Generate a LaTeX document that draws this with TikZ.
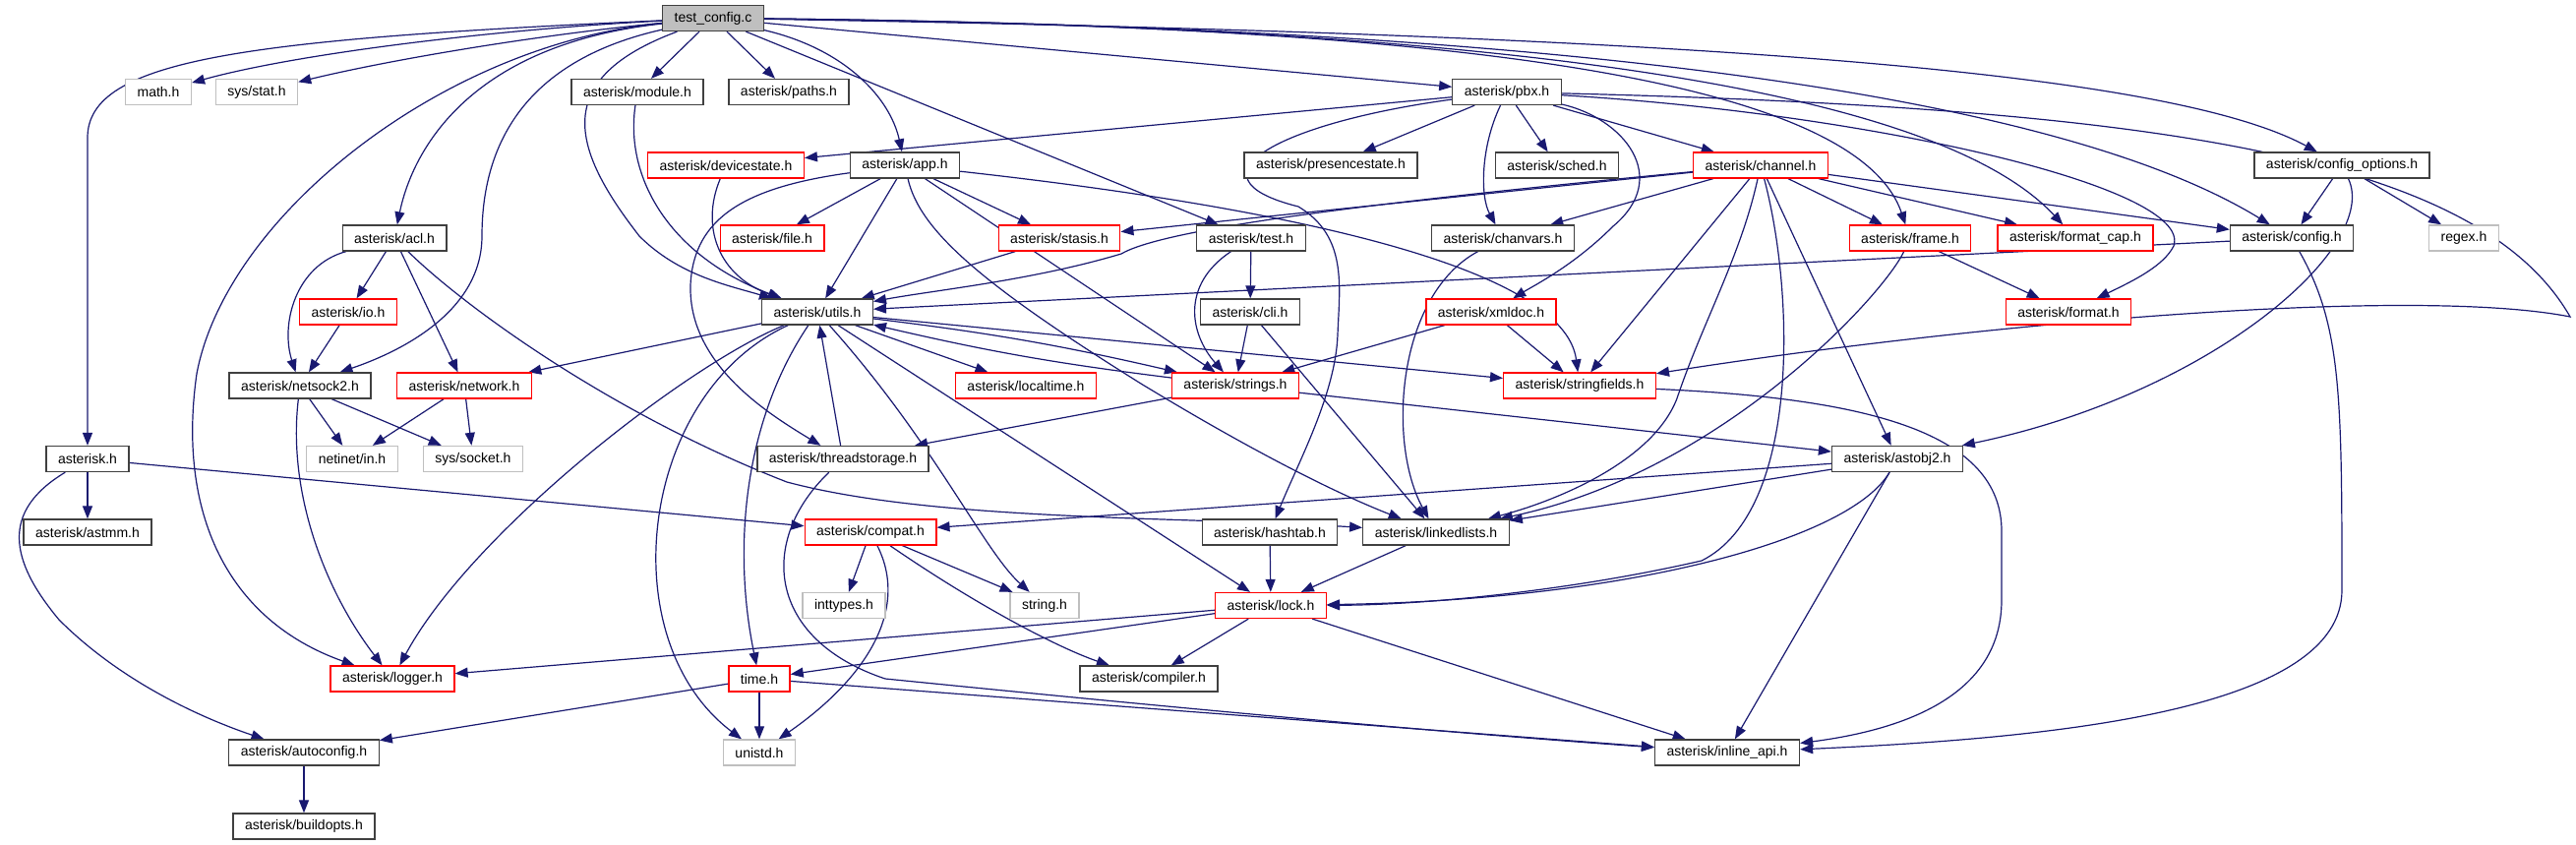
\documentclass[tikz,border=0pt]{standalone}
\usepackage{fontspec}
\setmainfont{Liberation Sans}
\usetikzlibrary{arrows.meta,backgrounds}
\definecolor{edgeblue}{HTML}{191970}
\definecolor{hdrline}{HTML}{404040}
\definecolor{sysline}{HTML}{BFBFBF}
\definecolor{rootfill}{HTML}{BFBFBF}
\definecolor{missred}{HTML}{FF0000}

\begin{document}
\begin{tikzpicture}[x=1pt, y=-1pt,
  hdr/.style={draw=hdrline, fill=white, line width=1.3pt, minimum height=26pt,
              inner xsep=12pt, inner ysep=0pt, font=\fontsize{14}{16}\selectfont},
  missing/.style={hdr, draw=missred},
  sysinc/.style={hdr, draw=sysline},
  srcfile/.style={hdr, fill=rootfill},
  incl/.style={-{Triangle[length=13pt,width=10pt]}, draw=edgeblue, line width=1.2pt}
]
\useasboundingbox (0,0) rectangle (2619,859);

% rows of the include graph
\node[srcfile] (tc) at (725,18.5) {test\_config.c};

\node[sysinc] (mathh) at (161,93.5) {math.h};
\node[sysinc] (sysstat) at (261,93.5) {sys/stat.h};
\node[hdr] (module) at (648,93.5) {asterisk/module.h};
\node[hdr] (paths) at (802,93.5) {asterisk/paths.h};
\node[hdr] (pbx) at (1532,93.5) {asterisk/pbx.h};

\node[missing] (devstate) at (738,168) {asterisk/devicestate.h};
\node[hdr] (app) at (920,168) {asterisk/app.h};
\node[hdr] (presence) at (1353,168) {asterisk/presencestate.h};
\node[hdr] (sched) at (1583,168) {asterisk/sched.h};
\node[missing] (channel) at (1790,168) {asterisk/channel.h};
\node[hdr] (cfgopts) at (2381,168) {asterisk/config\_options.h};

\node[hdr] (acl) at (401,242) {asterisk/acl.h};
\node[missing] (file) at (785,242) {asterisk/file.h};
\node[missing] (stasis) at (1077,242) {asterisk/stasis.h};
\node[hdr] (test) at (1272,242) {asterisk/test.h};
\node[hdr] (chanvars) at (1528,242) {asterisk/chanvars.h};
\node[missing] (frame) at (1942,242) {asterisk/frame.h};
\node[missing] (fmtcap) at (2110,242) {asterisk/format\_cap.h};
\node[hdr] (config) at (2330,242) {asterisk/config.h};
\node[sysinc] (regex) at (2505,242) {regex.h};

\node[missing] (io) at (354,317) {asterisk/io.h};
\node[hdr] (utils) at (831,317) {asterisk/utils.h};
\node[hdr] (cli) at (1271,317) {asterisk/cli.h};
\node[missing] (xmldoc) at (1516,317) {asterisk/xmldoc.h};
\node[missing] (format) at (2103,317) {asterisk/format.h};

\node[hdr] (netsock) at (305,392) {asterisk/netsock2.h};
\node[missing] (network) at (472,392) {asterisk/network.h};
\node[missing] (localtime) at (1043,392) {asterisk/localtime.h};
\node[missing] (strings) at (1256,392) {asterisk/strings.h};
\node[missing] (strfields) at (1606,392) {asterisk/stringfields.h};

\node[hdr] (asth) at (89,466.5) {asterisk.h};
\node[sysinc] (netinet) at (358,466.5) {netinet/in.h};
\node[sysinc] (syssock) at (481,466.5) {sys/socket.h};
\node[hdr] (tstorage) at (857,466.5) {asterisk/threadstorage.h};
\node[hdr] (astobj) at (1929,466.5) {asterisk/astobj2.h};

\node[hdr] (astmm) at (89,541) {asterisk/astmm.h};
\node[missing] (compat) at (885,541) {asterisk/compat.h};
\node[hdr] (hashtab) at (1291,541) {asterisk/hashtab.h};
\node[hdr] (llists) at (1460,541) {asterisk/linkedlists.h};

\node[sysinc] (inttypes) at (858,615.5) {inttypes.h};
\node[sysinc] (stringh) at (1062,615.5) {string.h};
\node[missing] (lock) at (1292,615.5) {asterisk/lock.h};

\node[missing] (logger) at (399,690) {asterisk/logger.h};
\node[missing] (timeh) at (772,690) {time.h};
\node[hdr] (compiler) at (1168,690) {asterisk/compiler.h};

\node[hdr] (autocfg) at (309,765) {asterisk/autoconfig.h};
\node[sysinc] (unistd) at (772,765) {unistd.h};
\node[hdr] (inlapi) at (1756,765) {asterisk/inline\_api.h};

\node[hdr] (buildopts) at (309,840) {asterisk/buildopts.h};

\begin{pgfonlayer}{background}
% test_config.c
\draw[incl] (tc) .. controls (500,30) and (300,55) .. (mathh);
\draw[incl] (tc) .. controls (550,35) and (400,60) .. (sysstat);
\draw[incl] (tc) .. controls (250,40) and (89,60) .. (89,140) -- (asth);
\draw[incl] (tc) .. controls (480,45) and (420,150) .. (acl);
\draw[incl] (tc) .. controls (540,60) and (490,140) .. (490,240) .. controls (490,320) and (400,360) .. (netsock);
\draw[incl] (tc) .. controls (450,45) and (230,220) .. (200,380) .. controls (180,520) and (230,630) .. (logger);
\draw[incl] (tc) .. controls (560,80) and (580,150) .. (650,240) .. controls (690,280) and (740,290) .. (utils);
\draw[incl] (tc) -- (module);
\draw[incl] (tc) -- (paths);
\draw[incl] (tc) .. controls (860,50) and (905,100) .. (app);
\draw[incl] (tc) -- (test);
\draw[incl] (tc) -- (pbx);
\draw[incl] (tc) .. controls (1700,35) and (2200,70) .. (cfgopts);
\draw[incl] (tc) .. controls (1350,25) and (1880,60) .. (frame);
\draw[incl] (tc) .. controls (1400,25) and (1950,70) .. (fmtcap);
\draw[incl] (tc) .. controls (1400,25) and (2050,70) .. (config);

% pbx.h
\draw[incl] (pbx) -- (devstate);
\draw[incl] (pbx) -- (presence);
\draw[incl] (pbx) -- (sched);
\draw[incl] (pbx) -- (channel);
\draw[incl] (pbx) .. controls (1505,150) and (1505,200) .. (chanvars);
\draw[incl] (pbx) .. controls (1300,125) and (1200,180) .. (1320,210) .. controls (1370,240) and (1362,290) .. (1360,340) .. controls (1358,400) and (1320,470) .. (hashtab);
\draw[incl] (pbx) .. controls (1650,120) and (1700,180) .. (1640,230) .. controls (1600,270) and (1560,290) .. (xmldoc);
\draw[incl] (pbx) .. controls (2200,110) and (2520,160) .. (2613,322) .. controls (2450,290) and (2000,330) .. (strfields);
\draw[incl] (pbx) .. controls (1900,115) and (2230,190) .. (2210,250) .. controls (2200,270) and (2170,285) .. (format);

% channel.h
\draw[incl] (channel) -- (stasis);
\draw[incl] (channel) .. controls (1350,210) and (1180,235) .. (1140,258) .. controls (1050,285) and (950,295) .. (utils);
\draw[incl] (channel) -- (chanvars);
\draw[incl] (channel) -- (strfields);
\draw[incl] (channel) .. controls (1770,260) and (1730,330) .. (1705,405) .. controls (1680,470) and (1580,510) .. (llists);
\draw[incl] (channel) .. controls (1825,300) and (1830,520) .. (1730,570) .. controls (1600,600) and (1450,615) .. (lock);
\draw[incl] (channel) -- (astobj);
\draw[incl] (channel) -- (frame);
\draw[incl] (channel) -- (fmtcap);
\draw[incl] (channel) -- (config);

% app.h
\draw[incl] (app) -- (file);
\draw[incl] (app) -- (utils);
\draw[incl] (app) -- (stasis);
\draw[incl] (app) .. controls (760,190) and (705,220) .. (702,290) .. controls (700,370) and (780,420) .. (tstorage);
\draw[incl] (app) -- (strings);
\draw[incl] (app) .. controls (935,235) and (1000,290) .. (1160,390) .. controls (1300,475) and (1380,510) .. (llists);
\draw[incl] (app) .. controls (1300,210) and (1590,270) .. (strfields);

% second level
\draw[incl] (module) .. controls (635,180) and (680,260) .. (utils);
\draw[incl] (devstate) .. controls (712,230) and (730,280) .. (utils);
\draw[incl] (stasis) -- (utils);
\draw[incl] (config) -- (utils);
\draw[incl] (acl) -- (io);
\draw[incl] (acl) .. controls (300,270) and (285,330) .. (netsock);
\draw[incl] (acl) -- (network);
\draw[incl] (acl) .. controls (470,310) and (620,420) .. (800,490) .. controls (950,530) and (1200,525) .. (llists);
\draw[incl] (io) -- (netsock);
\draw[incl] (netsock) -- (netinet);
\draw[incl] (netsock) -- (syssock);
\draw[incl] (netsock) .. controls (292,500) and (330,600) .. (logger);
\draw[incl] (network) -- (netinet);
\draw[incl] (network) -- (syssock);
\draw[incl] (test) -- (cli);
\draw[incl] (test) .. controls (1200,290) and (1210,340) .. (strings);
\draw[incl] (cli) -- (strings);
\draw[incl] (cli) -- (llists);
\draw[incl] (xmldoc) -- (strings);
\draw[incl] (xmldoc) -- (strfields);
\draw[incl] (chanvars) .. controls (1420,300) and (1410,450) .. (llists);
\draw[incl] (frame) .. controls (1915,300) and (1750,480) .. (llists);
\draw[incl] (frame) -- (format);
\draw[incl] (cfgopts) -- (config);
\draw[incl] (cfgopts) -- (regex);
\draw[incl] (cfgopts) .. controls (2420,250) and (2250,400) .. (astobj);
\draw[incl] (config) .. controls (2380,330) and (2381,400) .. (2381,600) .. controls (2381,720) and (2100,750) .. (inlapi);

% utils.h
\draw[incl] (utils) -- (network);
\draw[incl] (utils) .. controls (700,370) and (480,540) .. (logger);
\draw[incl] (utils) .. controls (650,400) and (620,650) .. (unistd);
\draw[incl] (utils) .. controls (755,430) and (745,560) .. (timeh);
\draw[incl] (utils) -- (localtime);
\draw[incl] (utils) to[bend left=3] (strings);
\draw[incl] (strings) to[bend left=3] (utils);
\draw[incl] (utils) -- (strfields);
\draw[incl] (utils) .. controls (950,450) and (1000,560) .. (stringh);
\draw[incl] (utils) -- (lock);
\draw[incl] (tstorage) -- (utils);
\draw[incl] (strings) -- (tstorage);
\draw[incl] (strings) -- (astobj);

% lower part
\draw[incl] (strfields) .. controls (1900,405) and (2035,440) .. (2035,540) -- (2035,610) .. controls (2035,700) and (1950,740) .. (inlapi);
\draw[incl] (astobj) -- (compat);
\draw[incl] (astobj) -- (llists);
\draw[incl] (astobj) .. controls (1880,550) and (1650,610) .. (lock);
\draw[incl] (astobj) -- (inlapi);
\draw[incl] (asth) -- (astmm);
\draw[incl] (asth) -- (compat);
\draw[incl] (asth) .. controls (0,520) and (10,570) .. (60,630) .. controls (130,700) and (220,735) .. (autocfg);
\draw[incl] (autocfg) -- (buildopts);
\draw[incl] (hashtab) -- (lock);
\draw[incl] (llists) -- (lock);
\draw[incl] (compat) -- (inttypes);
\draw[incl] (compat) -- (stringh);
\draw[incl] (compat) .. controls (925,620) and (880,690) .. (unistd);
\draw[incl] (compat) .. controls (1000,620) and (1080,660) .. (compiler);
\draw[incl] (lock) -- (logger);
\draw[incl] (lock) -- (timeh);
\draw[incl] (lock) -- (compiler);
\draw[incl] (lock) -- (inlapi);
\draw[incl] (tstorage) .. controls (770,550) and (780,650) .. (900,690) .. controls (1050,705) and (1400,740) .. (inlapi);
\draw[incl] (timeh) -- (unistd);
\draw[incl] (timeh) -- (autocfg);
\draw[incl] (timeh) -- (inlapi);
\end{pgfonlayer}
\end{tikzpicture}
\end{document}
